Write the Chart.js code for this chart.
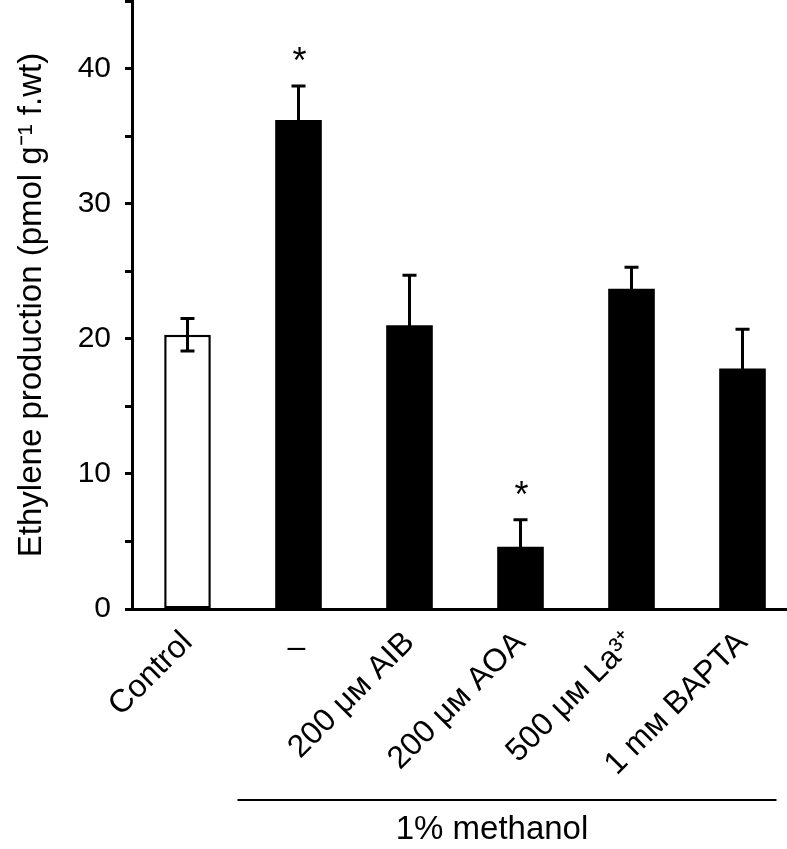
<!DOCTYPE html>
<html>
<head>
<meta charset="utf-8">
<script src="https://cdn.jsdelivr.net/npm/chart.js@4"></script>
<style>
  html, body { margin: 0; padding: 0; background: #fff; overflow: hidden; }
  canvas { display: block; }
</style>
</head>
<body>
<canvas id="myChart" width="800" height="849"></canvas>
<script>
const categories = ["Control", "–", "200 μᴍ AIB", "200 μᴍ AOA", "500 μᴍ La³⁺", "1 mᴍ BAPTA"];
const values = [20.3, 36.2, 21.0, 4.6, 23.7, 17.8];
const errors = [1.2, 2.5, 3.7, 2.0, 1.6, 2.9];
const significant = [false, true, false, true, false, false];
const fillColors = ["#ffffff", "#000000", "#000000", "#000000", "#000000", "#000000"];
const borderWidths = [2.5, 0, 0, 0, 0, 0];
const groupLabel = "1% methanol";

const FONT = "'Liberation Sans', Arial, Helvetica, sans-serif";

// error bars, asterisks, dash label and the methanol bracket
const extras = {
      id: "extras",
      afterDatasetsDraw(chart) {
            const ctx = chart.ctx;
            const x = chart.scales.x;
            const y = chart.scales.y;
            ctx.save();
            ctx.strokeStyle = "#000";
            ctx.fillStyle = "#000";
            ctx.lineWidth = 3;
            values.forEach((v, i) => {
                  const cx = x.getPixelForValue(i);
                  const top = y.getPixelForValue(v + errors[i]);
                  const bot = y.getPixelForValue(v - errors[i]);
                  ctx.beginPath();
                  ctx.moveTo(cx, top);
                  ctx.lineTo(cx, bot);
                  ctx.moveTo(cx - 7, top);
                  ctx.lineTo(cx + 7, top);
                  ctx.moveTo(cx - 7, bot);
                  ctx.lineTo(cx + 7, bot);
                  ctx.stroke();
                  if (significant[i]) {
                        ctx.font = "36px " + FONT;
                        ctx.textAlign = "center";
                        ctx.textBaseline = "middle";
                        ctx.fillText("*", cx + 1, top - 23);
                  }
            });

            // the "–" label sits flat, not rotated
            ctx.font = "32px " + FONT;
            ctx.textAlign = "center";
            ctx.textBaseline = "middle";
            ctx.fillText(categories[1], x.getPixelForValue(1) - 2, 648);

            const x1 = x.getPixelForValue(1) - 61;
            const x2 = x.getPixelForValue(5) + 34;
            ctx.lineWidth = 2;
            ctx.beginPath();
            ctx.moveTo(x1, 800);
            ctx.lineTo(x2, 800);
            ctx.stroke();
            ctx.font = "33px " + FONT;
            ctx.textBaseline = "middle";
            ctx.fillText(groupLabel, 492, 830);
            ctx.restore();
      },
};

const data = {
      labels: categories,
      datasets: [{
            data: values,
            backgroundColor: fillColors,
            borderColor: "#000",
            borderWidth: borderWidths,
            borderSkipped: false,
            barPercentage: 0.42,
            categoryPercentage: 1,
      }],
};

const config = {
      type: "bar",
      data: data,
      plugins: [extras],
      options: {
            responsive: false,
            animation: false,
            layout: { padding: { top: 1, right: 2, left: 0, bottom: 0 } },
            plugins: { legend: { display: false }, tooltip: { enabled: false } },
            scales: {
                  x: {
                        grid: { display: false, drawTicks: false },
                        border: { display: true, color: "#000", width: 3 },
                        ticks: {
                              color: "#000",
                              font: { family: FONT, size: 32 },
                              minRotation: 45,
                              maxRotation: 45,
                              padding: 15,
                              autoSkip: false,
                              callback: function (value, index) {
                                    return index === 1 ? "" : categories[index];
                              },
                        },
                        afterFit: (scale) => {
                              scale.height = 240;
                              scale.paddingLeft = 0;
                              scale.paddingRight = 0;
                        },
                  },
                  y: {
                        min: 0,
                        max: 45,
                        grid: { drawOnChartArea: false, drawTicks: true, tickLength: 7, tickWidth: 3, color: "#000" },
                        border: { display: true, color: "#000", width: 3 },
                        ticks: {
                              stepSize: 5,
                              color: "#000",
                              padding: 14,
                              font: { family: FONT, size: 30 },
                              callback: function (value) {
                                    return value % 10 === 0 ? value : "";
                              },
                        },
                        title: {
                              display: true,
                              text: "Ethylene production (pmol g⁻¹ f.wt)",
                              color: "#000",
                              font: { family: FONT, size: 33 },
                              padding: { top: 12, bottom: 0 },
                        },
                        afterFit: (scale) => {
                              scale.width = 132;
                              scale.paddingTop = 0;
                              scale.paddingBottom = 0;
                        },
                  },
            },
      },
};

const myChart = new Chart(document.getElementById("myChart").getContext("2d"), config);
</script>
</body>
</html>
